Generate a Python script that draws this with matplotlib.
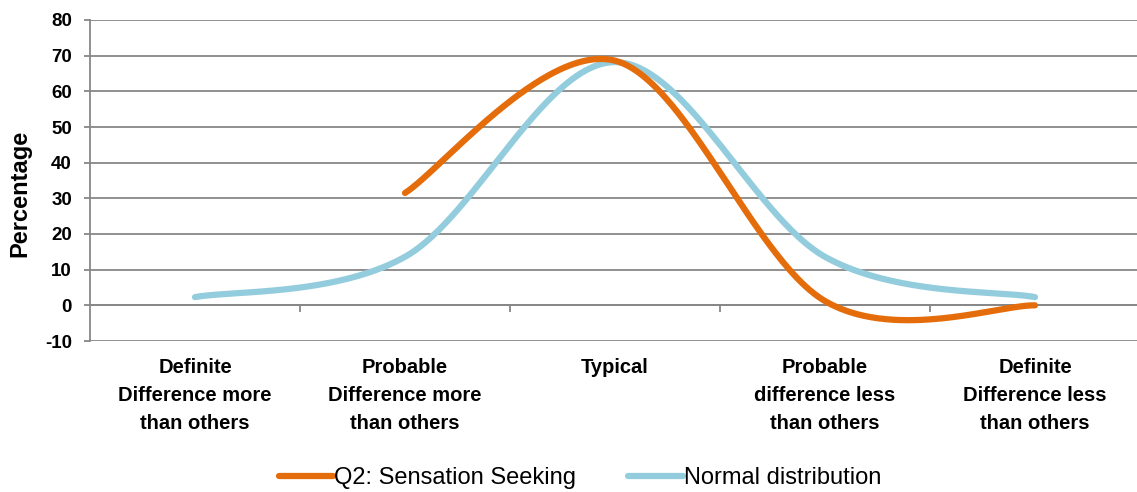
import numpy as np
import matplotlib
matplotlib.use("Agg")
import matplotlib.pyplot as plt

plt.rcParams['font.family'] = ['Liberation Sans', 'DejaVu Sans']

categories = ["Definite\nDifference more\nthan others",
              "Probable\nDifference more\nthan others",
              "Typical",
              "Probable\ndifference less\nthan others",
              "Definite\nDifference less\nthan others"]

# Q2: Sensation Seeking (starts at the 2nd category)
sensation_x = [1, 2, 3, 4]
sensation_y = [31.5, 68.6, 1.2, 0.0]

# Normal distribution
normal_x = [0, 1, 2, 3, 4]
normal_y = [2.3, 13.6, 68.2, 13.6, 2.3]

yticks = [-10, 0, 10, 20, 30, 40, 50, 60, 70, 80]


def excel_smooth(xs, ys, n=100):
    P = np.column_stack([xs, ys]).astype(float)
    m = len(P)
    out = []
    for i in range(m - 1):
        p0 = P[i - 1] if i > 0 else P[i]
        p1 = P[i]
        p2 = P[i + 1]
        p3 = P[i + 2] if i + 2 < m else P[i + 1]
        c1 = p1 + (p2 - p0) / 6.0
        c2 = p2 - (p3 - p1) / 6.0
        t = np.linspace(0, 1, n)[:, None]
        seg = ((1 - t) ** 3) * p1 + 3 * ((1 - t) ** 2) * t * c1 + 3 * (1 - t) * t ** 2 * c2 + t ** 3 * p2
        out.append(seg if i == 0 else seg[1:])
    out = np.vstack(out)
    return out[:, 0], out[:, 1]


fig = plt.figure(figsize=(11.37, 4.92), dpi=100)
ax = fig.add_axes([90 / 1137, 1 - 341 / 492, (1140 - 90) / 1137, (341 - 20) / 492])

grid_c = '#878787'
ax.set_xlim(-0.5, 4.5)
ax.set_ylim(-10, 80)
ax.set_yticks(yticks)
ax.set_yticklabels([str(v) for v in yticks], fontsize=13.5, fontweight='bold')
ax.yaxis.grid(True, color=grid_c, linewidth=1.3)
ax.set_axisbelow(True)

for s in ['top', 'right', 'bottom']:
    ax.spines[s].set_visible(False)
ax.spines['left'].set_color(grid_c)
ax.spines['left'].set_linewidth(1.3)
ax.tick_params(axis='y', length=4, color=grid_c, width=1.3, pad=9)

# x axis at zero with ticks between categories
ax.axhline(0, color=grid_c, linewidth=1.3, zorder=1)
ax.set_xticks([])
ax.vlines([0.5, 1.5, 2.5, 3.5], -2.0, 0, color=grid_c, linewidth=1.3, zorder=1)

for i, c in enumerate(categories):
    ax.text(i, -14.9, c, ha='center', va='top', fontsize=14.5, fontweight='bold',
            linespacing=1.6)

sx, sy = excel_smooth(sensation_x, sensation_y)
nx, ny = excel_smooth(normal_x, normal_y)
l2, = ax.plot(nx, ny, color='#93CDDD', linewidth=4.5, solid_capstyle='round', zorder=3,
              label='Normal distribution')
l1, = ax.plot(sx, sy, color='#E46C0A', linewidth=4.5, solid_capstyle='round', zorder=4,
              label='Q2: Sensation Seeking')

ax.set_ylabel('Percentage', fontsize=17, fontweight='bold')
ax.yaxis.set_label_coords(-(90 - 31) / 1050, (341 - 193) / 321)

fig.legend(handles=[l1, l2], loc='center', bbox_to_anchor=(580 / 1137, 1 - 478 / 492),
           ncol=2, frameon=False, fontsize=17, handlelength=2.3, handletextpad=0.05,
           columnspacing=2.2)

fig.savefig('out.png', dpi=100)
